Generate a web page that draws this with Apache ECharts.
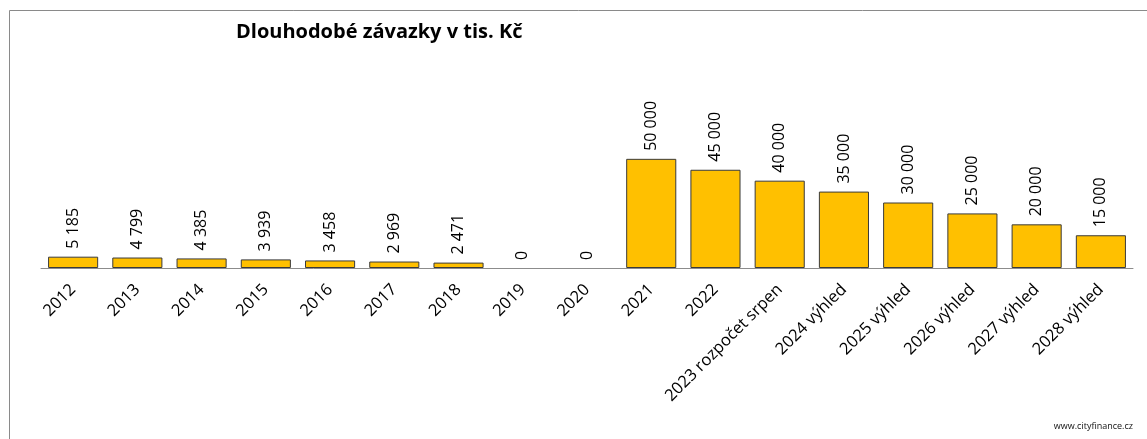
<!DOCTYPE html>
<html>
<head>
<meta charset="utf-8">
<script src="https://cdn.jsdelivr.net/npm/echarts@6/dist/echarts.min.js"></script>
<style>
  html, body { margin: 0; padding: 0; background: #fff; }
  #chart { width: 1147px; height: 439px; }
</style>
</head>
<body>
<div id="chart"></div>
<script>
// Long-term liabilities, thousands CZK
const categories = [
  '2012', '2013', '2014', '2015', '2016', '2017', '2018', '2019', '2020',
  '2021', '2022', '2023 rozpočet srpen', '2024 výhled', '2025 výhled',
  '2026 výhled', '2027 výhled', '2028 výhled'
];
const liabilities = [
  5185, 4799, 4385, 3939, 3458, 2969, 2471, 0, 0,
  50000, 45000, 40000, 35000, 30000, 25000, 20000, 15000
];
const titleText = 'Dlouhodobé závazky v tis. Kč';
const sourceText = 'www.cityfinance.cz';

const font = '"Open Sans", "Noto Sans", sans-serif';

// thousands separated by a space: 50000 -> "50 000"
function fmt(v) {
  return String(v).replace(/\B(?=(\d{3})+(?!\d))/g, ' ');
}

// zero-height bars get no outline so no stray line sits on the axis
const barData = liabilities.map(v => v === 0
  ? { value: v, itemStyle: { borderWidth: 0 } }
  : v);

const chart = echarts.init(document.getElementById('chart'), null, { renderer: 'canvas' });
chart.setOption({
  animation: false,
  backgroundColor: '#ffffff',
  title: {
    text: titleText,
    left: 231,
    top: 17,
    textStyle: { fontFamily: font, fontSize: 20, fontWeight: 'bold', color: '#000' }
  },
  graphic: [
    // frame lines on the top and left
    { type: 'line', shape: { x1: 9.5, y1: 10.5, x2: 1147, y2: 10.5 }, style: { stroke: '#8a8a8a', lineWidth: 1 } },
    { type: 'line', shape: { x1: 9.5, y1: 10.5, x2: 9.5, y2: 439 }, style: { stroke: '#8a8a8a', lineWidth: 1 } },
    {
      type: 'text', right: 14, top: 422,
      style: { text: sourceText, font: '9px ' + font, fill: '#111' }
    }
  ],
  grid: { left: 41, right: 14, top: 137, bottom: 171, containLabel: false },
  xAxis: {
    type: 'category',
    data: categories,
    axisLine: { show: true, lineStyle: { color: '#8c8c8c', width: 1 } },
    axisTick: { show: false },
    axisLabel: {
      rotate: 45,
      interval: 0,
      margin: 19,
      fontFamily: font,
      fontSize: 16.5,
      color: '#000'
    }
  },
  yAxis: {
    type: 'value',
    min: 0,
    max: 60000,
    show: false,
    splitLine: { show: false }
  },
  series: [{
    type: 'bar',
    data: barData,
    barCategoryGap: '22%',
    itemStyle: { color: '#FFC000', borderColor: '#3a3a3a', borderWidth: 1 },
    label: {
      show: true,
      position: 'top',
      rotate: 90,
      align: 'left',
      verticalAlign: 'middle',
      distance: 8,
      fontFamily: font,
      fontSize: 16,
      color: '#000',
      formatter: p => fmt(p.value)
    }
  }]
});
</script>
</body>
</html>
